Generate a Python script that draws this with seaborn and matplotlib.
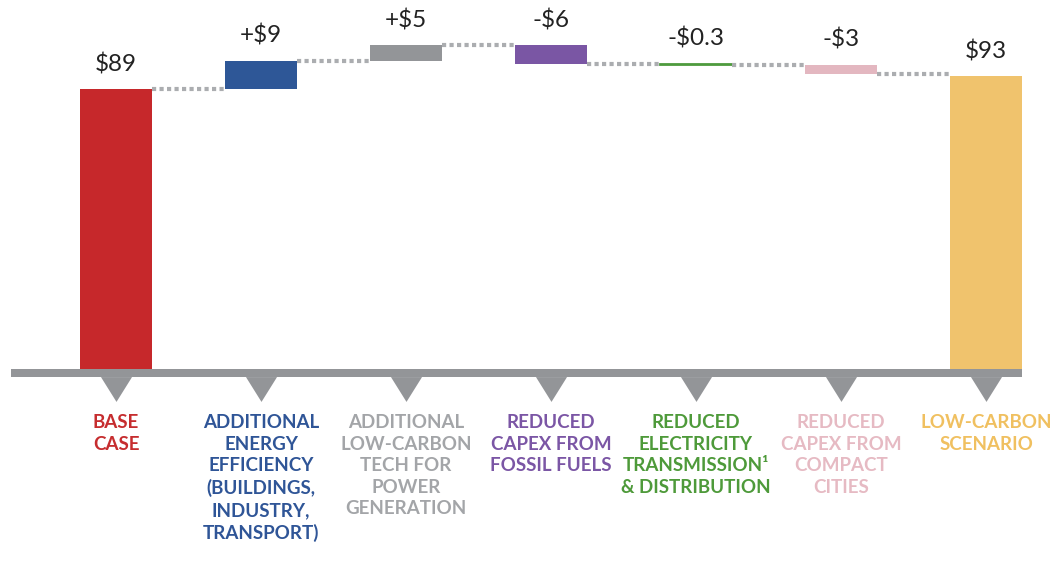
import numpy as np
import pandas as pd
import matplotlib.pyplot as plt
import seaborn as sns
from matplotlib.path import Path

# waterfall steps
categories = ['BASE\nCASE',
              'ADDITIONAL\nENERGY\nEFFICIENCY\n(BUILDINGS,\nINDUSTRY,\nTRANSPORT)',
              'ADDITIONAL\nLOW-CARBON\nTECH FOR\nPOWER\nGENERATION',
              'REDUCED\nCAPEX FROM\nFOSSIL FUELS',
              'REDUCED\nELECTRICITY\nTRANSMISSION\u00b9\n& DISTRIBUTION',
              'REDUCED\nCAPEX FROM\nCOMPACT\nCITIES',
              'LOW-CARBON\nSCENARIO']
changes = [89, 9, 5, -6, -0.3, -3, 93]
value_labels = ['$89', '+$9', '+$5', '-$6', '-$0.3', '-$3', '$93']
bar_colors = ['#C6282B', '#2E5797', '#939598', '#7A56A4', '#4E9B3E', '#E3B7C0', '#F0C36D']
text_colors = ['#C62D2F', '#2F5597', '#A3A5A8', '#7B56A5', '#4E9A3A', '#E6BAC3', '#F0C060']

# first and last are totals, the rest float on the running sum
running = changes[0]
bottoms, tops = [0], [changes[0]]
for c in changes[1:-1]:
    lo, hi = sorted([running, running + c])
    bottoms.append(lo)
    tops.append(hi)
    running += c
bottoms.append(0)
tops.append(changes[-1])
levels = np.cumsum(changes[:-1])

df = pd.DataFrame({'step': np.arange(len(changes)),
                   'height': np.array(tops) - np.array(bottoms)})

sns.set_style('white')
plt.rcParams['font.family'] = ['Lato', 'DejaVu Sans']

fig, ax = plt.subplots(figsize=(10.51, 5.8), dpi=100)
fig.subplots_adjust(left=0, right=1, bottom=0, top=1)

px = 3.146  # pixels per unit
bar_w = 0.5
sns.barplot(data=df, x='step', y='height', bottom=bottoms, width=bar_w,
            errorbar=None, color='gray', linewidth=0, ax=ax)
for p, c in zip(ax.patches, bar_colors):
    p.set_facecolor(c)
    p.set_edgecolor(c)
ax.patches[4].set_linewidth(1.3)

# dotted connectors
for i, lv in enumerate(levels):
    ax.plot([i + bar_w / 2, i + 1 - bar_w / 2], [lv, lv], color='#ABADB0',
            lw=3, dashes=(1, 0.8), dash_capstyle='butt', zorder=1)

# baseline and pointers
ax.axhspan(-8 / px, 0, xmin=11 / 1051, xmax=1022 / 1051, color='#939598', lw=0)
tri = Path([(-1, 0.8), (1, 0.8), (0, -0.8), (-1, 0.8)])
sns.scatterplot(x=df['step'], y=[-20 / px] * len(df), marker=tri, s=500,
                color='#939598', linewidth=0, ax=ax, zorder=3)

for i in range(len(changes)):
    ax.annotate(value_labels[i], (i, tops[i]), xytext=(0, 10), textcoords='offset points',
                ha='center', va='bottom', fontsize=17.5, color='#222222')
    ax.text(i, -45 / px, categories[i], ha='center', va='top', fontsize=13.5,
            fontweight='bold', color=text_colors[i], linespacing=1.33)

ax.set_xlim(-116 / 145, (1051 - 116) / 145)
ax.set_ylim(-(580 - 369) / px, 369 / px)
ax.set_axis_off()

plt.savefig('out.png', dpi=100)
